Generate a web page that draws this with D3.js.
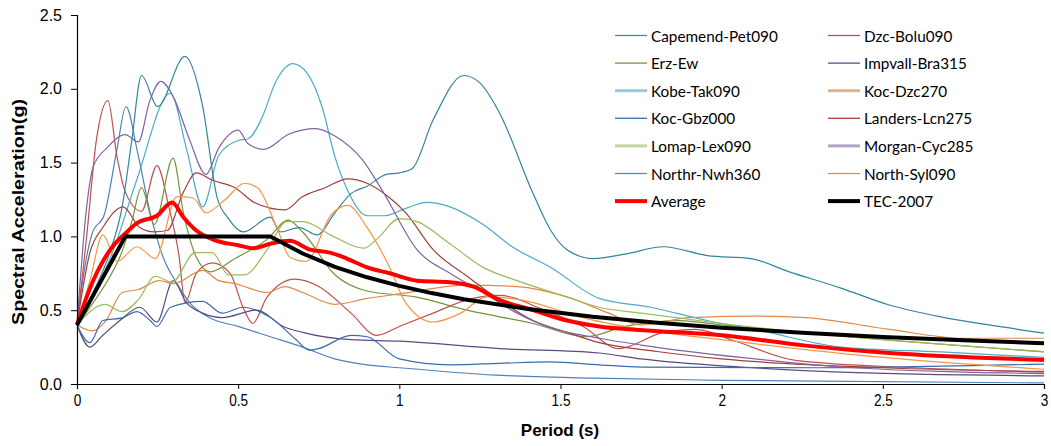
<!DOCTYPE html>
<html>
<head>
<meta charset="utf-8">
<script src="https://cdn.jsdelivr.net/npm/d3@7"></script>
<style>
  html, body { margin: 0; padding: 0; background: #fff; }
  svg { display: block; }
</style>
</head>
<body>
<svg id="chart" width="1051" height="446"></svg>
<script>
// ---------------- DATA (period s, spectral acceleration g) ----------------
const seriesNames = ["Capemend-Pet090","Dzc-Bolu090","Erz-Ew","Impvall-Bra315","Kobe-Tak090","Koc-Dzc270",
  "Koc-Gbz000","Landers-Lcn275","Lomap-Lex090","Morgan-Cyc285","Northr-Nwh360","North-Syl090"];

const capemendPet090 = [[0,0.4],[0.015,0.66],[0.047,1.02],[0.085,1.15],[0.124,1.59],[0.152,1.88],[0.186,1.59],[0.227,1.16],[0.267,0.86],[0.31,0.68],[0.35,0.55],[0.41,0.45],[0.5,0.39],[0.6,0.32],[0.7,0.25],[0.8,0.17],[0.9,0.13],[1.0,0.11],[1.3,0.06],[1.6,0.04],[2.0,0.025],[3.0,0.007]];
const dzcBolu090 = [[0,0.4],[0.03,1.0],[0.06,1.65],[0.096,1.92],[0.124,1.54],[0.15,1.3],[0.2,1.17],[0.248,1.48],[0.285,1.2],[0.317,0.86],[0.335,0.55],[0.37,0.75],[0.42,0.82],[0.475,0.75],[0.515,0.52],[0.545,0.41],[0.59,0.59],[0.676,0.71],[0.75,0.66],[0.85,0.48],[0.93,0.33],[1.0,0.39],[1.105,0.48],[1.21,0.57],[1.31,0.6],[1.45,0.5],[1.57,0.39],[1.68,0.24],[1.82,0.35],[1.92,0.37],[2.03,0.3],[2.23,0.16],[2.6,0.11],[3.0,0.08]];
const erzEw = [[0,0.4],[0.05,0.55],[0.1,0.72],[0.133,0.86],[0.17,1.1],[0.2,1.33],[0.24,1.08],[0.298,1.53],[0.33,1.16],[0.37,0.86],[0.413,0.76],[0.49,0.85],[0.59,0.98],[0.655,1.11],[0.7,1.03],[0.8,0.74],[0.9,0.63],[1.05,0.59],[1.21,0.5],[1.415,0.41],[1.58,0.32],[1.7,0.39],[1.87,0.43],[2.0,0.4],[2.5,0.3],[3.0,0.217]];
const impvallBra315 = [[0,0.4],[0.04,0.25],[0.08,0.33],[0.133,0.43],[0.195,0.52],[0.248,0.42],[0.298,0.7],[0.34,0.55],[0.39,0.48],[0.45,0.45],[0.558,0.5],[0.64,0.39],[0.7,0.35],[0.85,0.3],[1.0,0.29],[1.31,0.24],[1.62,0.21],[1.75,0.17],[2.06,0.115],[2.37,0.08],[3.0,0.055]];
const kobeTak090 = [[0,0.4],[0.05,0.6],[0.11,0.89],[0.185,1.38],[0.29,1.97],[0.34,1.59],[0.39,1.2],[0.44,1.55],[0.5,1.65],[0.53,1.66],[0.575,1.81],[0.615,2.04],[0.67,2.17],[0.716,2.1],[0.76,1.88],[0.8,1.54],[0.84,1.31],[0.9,1.14],[0.955,1.14],[1.02,1.19],[1.085,1.23],[1.157,1.2],[1.26,1.08],[1.35,0.93],[1.47,0.79],[1.62,0.58],[1.78,0.52],[1.955,0.43],[2.11,0.366],[2.37,0.25],[2.68,0.217],[3.0,0.18]];
const kocDzc270 = [[0,0.4],[0.047,0.36],[0.09,0.43],[0.14,0.62],[0.19,0.64],[0.255,0.7],[0.3,0.68],[0.39,0.77],[0.44,0.7],[0.49,0.68],[0.59,0.62],[0.645,0.66],[0.7,0.62],[0.8,0.54],[0.9,0.58],[1.0,0.61],[1.21,0.67],[1.365,0.66],[1.52,0.59],[1.65,0.48],[1.75,0.4],[1.9,0.45],[2.11,0.46],[2.26,0.45],[2.52,0.37],[2.75,0.31],[3.0,0.31]];
const kocGbz000 = [[0,0.4],[0.04,0.28],[0.08,0.43],[0.143,0.45],[0.186,0.49],[0.227,0.43],[0.248,0.39],[0.29,0.52],[0.39,0.56],[0.45,0.48],[0.515,0.52],[0.6,0.45],[0.68,0.3],[0.72,0.23],[0.75,0.24],[0.85,0.33],[0.9,0.32],[1.0,0.17],[1.157,0.13],[1.31,0.14],[1.47,0.15],[1.62,0.13],[1.75,0.115],[2.3,0.11],[3.0,0.135]];
const landersLcn275 = [[0,0.4],[0.04,0.89],[0.08,1.06],[0.143,1.2],[0.195,1.06],[0.24,1.03],[0.28,1.04],[0.33,1.3],[0.37,1.43],[0.42,1.38],[0.49,1.33],[0.55,1.23],[0.645,1.18],[0.7,1.27],[0.77,1.33],[0.84,1.39],[0.9,1.36],[0.965,1.27],[1.02,1.16],[1.105,0.91],[1.21,0.73],[1.31,0.57],[1.415,0.43],[1.52,0.35],[1.62,0.28],[1.8,0.22],[2.0,0.17],[2.5,0.11],[3.0,0.085]];
const lomapLex090 = [[0,0.4],[0.087,0.54],[0.14,0.49],[0.19,0.57],[0.243,0.73],[0.295,0.69],[0.366,0.89],[0.42,0.89],[0.47,0.74],[0.52,0.74],[0.59,0.91],[0.65,1.1],[0.7,1.1],[0.795,1.0],[0.89,0.92],[0.93,0.98],[1.0,1.12],[1.055,1.1],[1.157,0.95],[1.26,0.79],[1.365,0.7],[1.52,0.59],[1.62,0.52],[1.75,0.48],[2.0,0.41],[2.5,0.3],[3.0,0.22]];
const morganCyc285 = [[0,0.4],[0.03,1.2],[0.05,1.47],[0.093,1.6],[0.15,1.69],[0.19,1.64],[0.226,1.92],[0.26,2.05],[0.3,1.94],[0.35,1.65],[0.4,1.42],[0.44,1.6],[0.5,1.72],[0.53,1.63],[0.58,1.59],[0.655,1.69],[0.74,1.73],[0.8,1.68],[0.885,1.52],[0.95,1.3],[1.055,0.91],[1.157,0.75],[1.26,0.62],[1.365,0.48],[1.47,0.38],[1.62,0.31],[1.75,0.264],[2.06,0.18],[2.37,0.115],[2.68,0.085],[3.0,0.07]];
const northrNwh360 = [[0,0.4],[0.05,0.62],[0.1,0.88],[0.14,1.2],[0.17,1.65],[0.2,2.09],[0.25,1.88],[0.335,2.22],[0.39,1.88],[0.434,1.27],[0.47,1.12],[0.515,1.03],[0.6,1.13],[0.63,1.03],[0.69,1.06],[0.745,1.01],[0.8,1.16],[0.85,1.29],[0.9,1.34],[0.96,1.42],[1.0,1.43],[1.04,1.46],[1.105,1.79],[1.2,2.09],[1.25,2.04],[1.31,1.84],[1.415,1.29],[1.47,1.04],[1.52,0.91],[1.6,0.85],[1.7,0.88],[1.82,0.93],[1.955,0.87],[2.09,0.85],[2.21,0.76],[2.37,0.65],[2.52,0.535],[2.68,0.455],[2.83,0.40],[3.0,0.345]];
const northSyl090 = [[0,0.4],[0.04,0.7],[0.08,1.01],[0.124,0.83],[0.186,0.93],[0.243,0.85],[0.31,1.27],[0.36,1.26],[0.4,1.16],[0.46,1.25],[0.52,1.36],[0.56,1.33],[0.62,1.06],[0.66,0.86],[0.71,0.83],[0.79,1.15],[0.84,1.21],[0.9,1.06],[0.97,0.79],[1.02,0.55],[1.105,0.42],[1.19,0.48],[1.27,0.59],[1.4,0.56],[1.55,0.46],[1.75,0.37],[2.0,0.3],[2.5,0.18],[3.0,0.1]];

const average = [[0,0.4],[0.025,0.56],[0.05,0.7],[0.08,0.83],[0.11,0.93],[0.15,1.02],[0.186,1.09],[0.248,1.14],[0.295,1.23],[0.33,1.13],[0.37,1.04],[0.42,0.98],[0.5,0.94],[0.546,0.92],[0.6,0.95],[0.66,0.97],[0.723,0.91],[0.785,0.89],[0.826,0.86],[0.9,0.79],[0.97,0.75],[1.055,0.7],[1.157,0.69],[1.23,0.66],[1.31,0.57],[1.415,0.5],[1.52,0.43],[1.62,0.39],[1.747,0.366],[2.0,0.33],[2.26,0.26],[2.52,0.21],[2.78,0.18],[3.0,0.163]];
const tec2007 = [[0,0.4],[0.15,1.0],[0.6,1.0],[0.7,0.884],[0.8,0.794],[0.9,0.723],[1.0,0.665],[1.1,0.616],[1.2,0.574],[1.4,0.508],[1.6,0.456],[1.8,0.415],[2.0,0.381],[2.25,0.348],[2.5,0.319],[2.75,0.296],[3.0,0.276]];

const xTicks = [0, 0.5, 1, 1.5, 2, 2.5, 3];
const yTicks = [0, 0.5, 1.0, 1.5, 2.0, 2.5];

// ---------------- STYLE ----------------
const seriesData = [capemendPet090, dzcBolu090, erzEw, impvallBra315, kobeTak090, kocDzc270,
  kocGbz000, landersLcn275, lomapLex090, morganCyc285, northrNwh360, northSyl090];
const lineColors = ["#4F81BD","#C0504D","#77933C","#5F497A","#4BACC6","#E3894A",
  "#3A6BB0","#A0403D","#9BBB59","#8064A2","#31859C","#F79646"];
const legendColors = ["#4F81BD","#C0504D","#77933C","#5F497A","#93CDDD","#E6B08A",
  "#3A6BB0","#B0403D","#C3D69B","#B3A2C7","#3E98B0","#F08A45"];
const legendWidths = [1.3,1.3,1.3,1.3,3,3,1.3,1.3,3,3,1.3,1.3];

const svg = d3.select("#chart");
const x = d3.scaleLinear().domain([0, 3]).range([77, 1044]);
const y = d3.scaleLinear().domain([0, 2.5]).range([384, 15]);

const line = d3.line().x(d => x(d[0])).y(d => y(d[1])).curve(d3.curveMonotoneX);
const lineLin = d3.line().x(d => x(d[0])).y(d => y(d[1]));

// series
svg.append("g").selectAll("path").data(seriesData).join("path")
  .attr("d", d => line(d))
  .attr("fill", "none")
  .attr("stroke", (d, i) => lineColors[i])
  .attr("stroke-width", 1.2);

svg.append("path").attr("d", line(average)).attr("fill", "none")
  .attr("stroke", "#FF0000").attr("stroke-width", 4).attr("stroke-linejoin", "round");
svg.append("path").attr("d", lineLin(tec2007)).attr("fill", "none")
  .attr("stroke", "#000").attr("stroke-width", 4).attr("stroke-linejoin", "round");

// axes
const xAxis = svg.append("g").attr("transform", "translate(0,384)")
  .call(d3.axisBottom(x).tickValues(xTicks).tickSize(5).tickFormat(d3.format("")));
const yAxis = svg.append("g").attr("transform", "translate(77,0)")
  .call(d3.axisLeft(y).tickValues(yTicks).tickSize(6).tickFormat(d3.format(".1f")));
[xAxis, yAxis].forEach(g => {
  g.select(".domain").attr("stroke", "#000").attr("stroke-width", 1.2);
  g.selectAll(".tick line").attr("stroke", "#000").attr("stroke-width", 1);
});
xAxis.selectAll(".tick text").attr("font-family", "'Liberation Sans', Arial, sans-serif")
  .attr("font-size", 16).attr("fill", "#000").attr("dy", "0.95em").attr("y", 7)
  .attr("transform", "scale(0.85,1)")
  .attr("x", 0);
yAxis.selectAll(".tick text").attr("font-family", "'Liberation Sans', Arial, sans-serif")
  .attr("font-size", 16).attr("fill", "#000").attr("x", -15);

svg.append("text").text("Period (s)")
  .attr("x", 560).attr("y", 436).attr("text-anchor", "middle")
  .attr("font-family", "'Liberation Sans', Arial, sans-serif").attr("font-weight", "bold").attr("font-size", 17);
svg.append("text").text("Spectral Acceleration(g)")
  .attr("transform", "translate(24,212) rotate(-90)").attr("text-anchor", "middle")
  .attr("textLength", 226).attr("lengthAdjust", "spacingAndGlyphs")
  .attr("font-family", "'Liberation Sans', Arial, sans-serif").attr("font-weight", "bold").attr("font-size", 17);

// legend
const legendItems = seriesNames.map((n, i) => ({ name: n, color: legendColors[i], width: legendWidths[i] }));
legendItems.push({ name: "Average", color: "#FF0000", width: 4 });
legendItems.push({ name: "TEC-2007", color: "#000", width: 4 });
const lg = svg.append("g");
legendItems.forEach((it, i) => {
  const col = i % 2, row = Math.floor(i / 2);
  const lx = col === 0 ? 615 : 828;
  const ly = 35.5 + row * 27.6;
  lg.append("line").attr("x1", lx).attr("x2", lx + 32).attr("y1", ly).attr("y2", ly)
    .attr("stroke", it.color).attr("stroke-width", it.width);
  lg.append("text").text(it.name).attr("x", lx + 36).attr("y", ly)
    .attr("dominant-baseline", "central")
    .attr("font-family", "Lato, 'Open Sans', sans-serif").attr("font-size", 15.3).attr("fill", "#000");
});
</script>
</body>
</html>
